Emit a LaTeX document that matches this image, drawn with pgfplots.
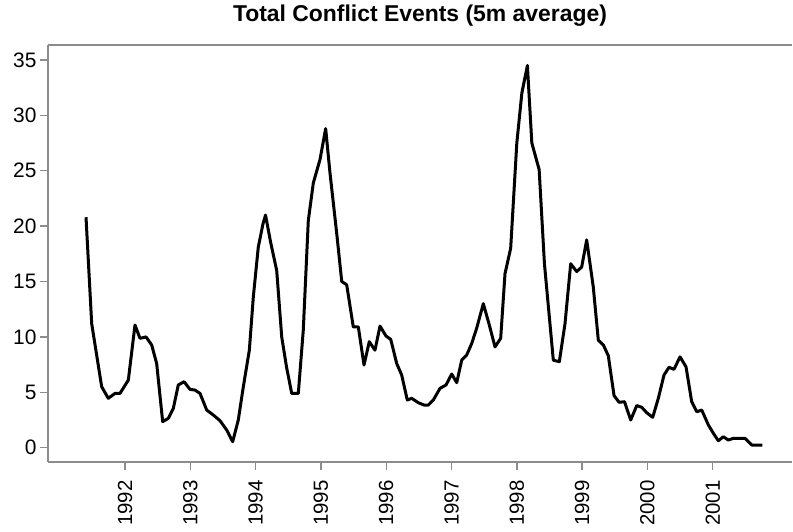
\documentclass[border=0pt]{standalone}
\usepackage{fontspec}
\setmainfont{Liberation Sans}
\usepackage{pgfplots}
\pgfplotsset{compat=1.18}
\usepackage{pgfplotstable}

% decimal year, 5-month average of conflict events
\pgfplotstableread{
t        v
1991.403 20.8
1991.490 11.2
1991.643 5.5
1991.744 4.46
1991.847 4.9
1991.923 4.9
1992.051 6.1
1992.153 11.07
1992.230 9.87
1992.322 10.0
1992.409 9.27
1992.485 7.6
1992.577 2.35
1992.663 2.65
1992.740 3.55
1992.816 5.66
1992.904 5.96
1992.995 5.27
1993.072 5.2
1993.149 4.9
1993.251 3.4
1993.352 2.95
1993.455 2.44
1993.557 1.6
1993.649 0.54
1993.735 2.5
1993.812 5.5
1993.904 8.8
1993.965 13.6
1994.041 18.1
1994.113 20.2
1994.152 21.0
1994.228 18.6
1994.323 16.0
1994.400 10.0
1994.473 7.3
1994.553 4.9
1994.654 4.9
1994.730 10.6
1994.807 20.5
1994.884 23.9
1994.986 26.0
1995.073 28.8
1995.139 24.8
1995.242 19.35
1995.319 15.0
1995.395 14.7
1995.496 10.9
1995.573 10.9
1995.660 7.46
1995.741 9.57
1995.828 8.8
1995.905 10.98
1995.997 10.08
1996.069 9.78
1996.161 7.6
1996.237 6.56
1996.323 4.3
1996.390 4.46
1996.492 4.06
1996.579 3.85
1996.645 3.85
1996.721 4.3
1996.824 5.36
1996.916 5.66
1997.003 6.65
1997.080 5.87
1997.156 7.9
1997.233 8.37
1997.309 9.4
1997.386 10.8
1997.487 13.0
1997.579 11.07
1997.666 9.1
1997.753 9.87
1997.819 15.7
1997.906 18.0
1998.000 27.5
1998.077 32.0
1998.162 34.5
1998.230 27.5
1998.342 25.1
1998.423 16.6
1998.559 7.9
1998.651 7.76
1998.738 11.2
1998.825 16.6
1998.917 15.9
1998.993 16.3
1999.070 18.75
1999.171 14.5
1999.248 9.7
1999.325 9.27
1999.401 8.3
1999.489 4.7
1999.566 4.1
1999.649 4.15
1999.744 2.5
1999.836 3.8
1999.913 3.65
1999.989 3.16
2000.081 2.74
2000.167 4.46
2000.254 6.56
2000.331 7.26
2000.407 7.07
2000.499 8.2
2000.591 7.3
2000.678 4.15
2000.755 3.25
2000.832 3.4
2000.933 2.05
2001.010 1.3
2001.086 0.63
2001.162 0.99
2001.239 0.69
2001.315 0.85
2001.418 0.85
2001.495 0.85
2001.597 0.24
2001.674 0.24
2001.760 0.24
}\conflict

\begin{document}
\begin{tikzpicture}
\begin{axis}[
    scale only axis,
    width=744bp, height=417bp,
    xmin=1990.821, xmax=2002.214,
    ymin=-1.29, ymax=36.345,
    axis x line*=box, axis y line*=left,
    axis line style={-, draw=black!45, line width=1.6bp},
    tick align=outside,
    xtick pos=bottom,
    major tick length=8bp,
    tick style={draw=black!45, line width=1.4bp},
    xtick={1992,1993,...,2001},
    ytick={0,5,...,35},
    /pgf/number format/1000 sep={},
    /pgf/number format/assume math mode=true,
    xticklabel shift=7bp,
    xticklabel style={rotate=90, anchor=east, font=\fontsize{20.5}{24}\selectfont},
    yticklabel style={font=\fontsize{21}{24}\selectfont},
    title={Total Conflict Events (5m average)},
    title style={font=\bfseries\fontsize{23}{28}\selectfont, anchor=base, at={(0.5,1)}, yshift=18bp},
]
\addplot[black, line width=3bp, line join=round] table[x=t, y=v] {\conflict};
\end{axis}
\pgfresetboundingbox
\path[use as bounding box] ([xshift=-48bp,yshift=-70bp]current axis.south west) rectangle ([xshift=1bp,yshift=45bp]current axis.north east);
\end{tikzpicture}
\end{document}
